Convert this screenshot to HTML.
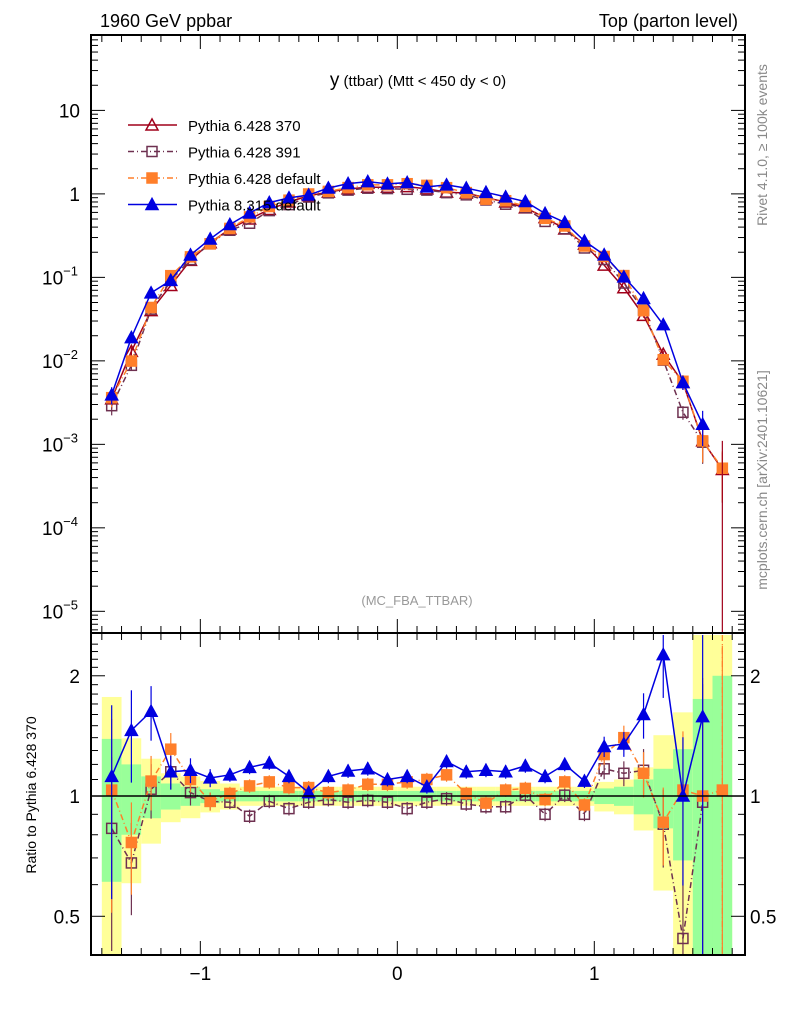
<!DOCTYPE html>
<html><head><meta charset="utf-8">
<style>
html,body{margin:0;padding:0;background:#fff;}
svg{display:block;font-family:"Liberation Sans",sans-serif;}
</style></head>
<body>
<svg id="chart" width="786" height="1024" viewBox="0 0 786 1024" xmlns="http://www.w3.org/2000/svg">
<g id="bands"></g>
<g id="grid"></g>
<g id="series"></g>
<g id="axes"></g>
<text x="100" y="27" font-size="18">1960 GeV ppbar</text>
<text x="738" y="27" font-size="18" text-anchor="end">Top (parton level)</text>
<text x="418" y="86" font-size="15" text-anchor="middle"><tspan font-size="19">y</tspan> (ttbar) (Mtt &lt; 450 dy &lt; 0)</text>
<text x="417" y="605" font-size="13" fill="#999" text-anchor="middle">(MC_FBA_TTBAR)</text>
<text x="767" y="145" font-size="14" fill="#888" text-anchor="middle" transform="rotate(-90 767 145)">Rivet 4.1.0, ≥ 100k events</text>
<text x="767" y="480" font-size="14" fill="#888" text-anchor="middle" transform="rotate(-90 767 480)">mcplots.cern.ch [arXiv:2401.10621]</text>
<text x="36" y="795" font-size="14" text-anchor="middle" transform="rotate(-90 36 795)">Ratio to Pythia 6.428 370</text>
<g id="legend"></g>
</svg>
<script>
const NS="http://www.w3.org/2000/svg";
// ---- data ----
const binCenters=[-1.45,-1.35,-1.25,-1.15,-1.05,-0.95,-0.85,-0.75,-0.65,-0.55,-0.45,-0.35,-0.25,-0.15,-0.05,0.05,0.15,0.25,0.35,0.45,0.55,0.65,0.75,0.85,0.95,1.05,1.15,1.25,1.35,1.45,1.55,1.65];
const ref370=[3.5e-3,1.3e-2,4e-2,0.08,0.16,0.26,0.38,0.5,0.65,0.8,0.95,1.05,1.15,1.2,1.2,1.22,1.15,1.05,1.02,0.9,0.8,0.68,0.52,0.38,0.25,0.14,0.075,0.035,0.012,5.5e-3,1.1e-3,5e-4];
const ratio391=[0.83,0.68,1.04,1.15,1.02,0.97,0.965,0.89,0.97,0.93,0.965,0.98,0.965,0.975,0.965,0.93,0.965,0.985,0.955,0.94,0.94,1.005,0.90,1.005,0.90,1.17,1.14,1.16,0.85,0.44,0.965,null];
const ratioDef=[1.035,0.765,1.09,1.31,1.10,0.97,1.015,1.06,1.085,1.05,1.05,1.02,1.035,1.07,1.07,1.085,1.10,1.13,1.015,0.96,1.035,1.045,0.98,1.085,0.95,1.27,1.40,1.14,0.86,1.035,1.0,1.035];
const ratioP8=[1.12,1.46,1.63,1.15,1.16,1.11,1.13,1.18,1.21,1.12,1.02,1.12,1.155,1.17,1.10,1.12,1.055,1.22,1.15,1.16,1.15,1.19,1.12,1.20,1.09,1.33,1.35,1.60,2.26,1.0,1.58,null];
const yellowUp=[1.77,1.395,1.24,1.14,1.12,1.09,1.075,1.055,1.055,1.055,1.055,1.055,1.055,1.055,1.055,1.055,1.055,1.055,1.055,1.055,1.055,1.055,1.055,1.055,1.055,1.085,1.10,1.18,1.42,1.62,2.6,2.6];
const greenUp=[1.39,1.20,1.12,1.075,1.055,1.04,1.03,1.03,1.03,1.03,1.03,1.03,1.03,1.03,1.03,1.03,1.03,1.03,1.03,1.03,1.03,1.03,1.03,1.03,1.03,1.045,1.055,1.10,1.17,1.31,1.75,2.0];
const mainTicks=["10","1","10","10","10","10","10"];
const mainExps=[null,null,"−1","−2","−3","−4","−5"];
const ratioTicks=[2,1,0.5];
const xTicks=[-1,0,1];
const xTickLabels=["−1","0","1"];
// ---- axes ----
const L=91,R=745,T=35,MB=633,RB=955;
const X0=-1.555,X1=1.765;
const sx=v=>L+(v-X0)/(X1-X0)*(R-L);
const LMAX=Math.log10(80),LMIN=Math.log10(5.5e-6);
const sy=v=>T+(LMAX-Math.log10(v))/(LMAX-LMIN)*(MB-T);
const RMAX=Math.log10(2.53),RMIN=Math.log10(0.40);
const ry=v=>635+(RMAX-Math.log10(v))/(RMAX-RMIN)*(RB-635);
function el(tag,attrs,parent){const e=document.createElementNS(NS,tag);for(const k in attrs)e.setAttribute(k,attrs[k]);parent.appendChild(e);return e;}
const bands=document.getElementById('bands'),series=document.getElementById('series'),axes=document.getElementById('axes'),legend=document.getElementById('legend');
binCenters.forEach((c,i)=>{
 const x0=sx(c-0.05),x1=sx(c+0.05);
 const clampTop=v=>Math.max(635,Math.min(RB,v));
 const yu=yellowUp[i],ylo=Math.max(2-yu,0.3);
 const r1=el('rect',{x:x0,y:clampTop(ry(yu)),width:x1-x0,height:clampTop(ry(ylo))-clampTop(ry(yu)),fill:'#ffff99'},bands);
 
 
 const gu=greenUp[i],glo=Math.max(2-gu,0.3);
 const r2=el('rect',{x:x0,y:clampTop(ry(gu)),width:x1-x0,height:clampTop(ry(glo))-clampTop(ry(gu)),fill:'#99ff99'},bands);
 
 
});
const ul=el('line',{x1:L,x2:R,y1:ry(1),y2:ry(1),stroke:'#000','stroke-width':1.5},axes);


const S=[
 {name:'pythia-6428-370',color:'#a0001a',dash:'',marker:'tri-open',ratio:binCenters.map(()=>1),label:'Pythia 6.428 370'},
 {name:'pythia-6428-391',color:'#6e3050',dash:'6,3,1,3',marker:'sq-open',ratio:ratio391,label:'Pythia 6.428 391'},
 {name:'pythia-6428-default',color:'#ff7f2a',dash:'6,3,1,3',marker:'sq-fill',ratio:ratioDef,label:'Pythia 6.428 default'},
 {name:'pythia-8315-default',color:'#0000e0',dash:'',marker:'tri-fill',ratio:ratioP8,label:'Pythia 8.315 default'}
];
function marker(g,type,x,y,c){
 let m;
 if(type.startsWith('tri')){m=el('polygon',{points:`${x},${y-6} ${x-6},${y+5} ${x+6},${y+5}`,fill:type.endsWith('fill')?c:'#fff','fill-opacity':type.endsWith('fill')?1:0,stroke:c,'stroke-width':1.5},g);}
 else{m=el('rect',{x:x-5,y:y-5,width:10,height:10,fill:type.endsWith('fill')?c:'none',stroke:c,'stroke-width':1.5},g);}
 return m;
}
S.forEach((s,si)=>{
 const g=el('g',{},series);
 
 
 const mp=[],rp=[];
 binCenters.forEach((c,i)=>{const r=s.ratio[i];if(r==null)return;const v=ref370[i]*r;mp.push([sx(c),sy(v),i,v]);rp.push([sx(c),ry(r),i,r]);});
 el('polyline',{points:mp.map(p=>p[0]+','+p[1]).join(' '),fill:'none',stroke:s.color,'stroke-width':1.5,'stroke-dasharray':s.dash},g);
 if(si>0) el('polyline',{points:rp.map(p=>p[0]+','+Math.min(RB,Math.max(635,p[1]))).join(' '),fill:'none',stroke:s.color,'stroke-width':1.5,'stroke-dasharray':s.dash},g);
 mp.forEach(p=>{
  const e=greenUp[p[2]]-1;
  if(e>0.1){const f=Math.min(0.9,e*0.6);const lo=p[3]*(1-f),hi=p[3]*(1+f);
   el('line',{x1:p[0],x2:p[0],y1:sy(hi),y2:sy(lo),stroke:s.color,'stroke-width':1.2},g);}
  const m=marker(g,s.marker,p[0],p[1],s.color);
  
  
 });
 if(si>0) rp.forEach(p=>{
  const e=greenUp[p[2]]-1;
  if(e>0.02){const lo=Math.max(0.4,p[3]*(1-e*1.3)),hi=Math.min(2.53,p[3]*(1+e*1.3));
   el('line',{x1:p[0],x2:p[0],y1:ry(hi),y2:ry(lo),stroke:s.color,'stroke-width':1.2},g);}
  if(p[1]>=635&&p[1]<=RB){const m=marker(g,s.marker,p[0],p[1],s.color);
   
   }
 });
 const ly=125+si*26.5;
 const le=el('g',{},legend);
 
 
 el('line',{x1:128,x2:177,y1:ly,y2:ly,stroke:s.color,'stroke-width':1.5,'stroke-dasharray':s.dash},le);
 marker(le,s.marker,152,ly,s.color);
 const t=el('text',{x:188,y:ly+6,'font-size':15},le);t.textContent=s.label;
});
el('line',{x1:sx(1.65),x2:sx(1.65),y1:sy(1.1e-3),y2:MB,stroke:'#a0001a','stroke-width':1.2},series);
el('line',{x1:sx(1.65),x2:sx(1.65),y1:635,y2:RB,stroke:'#ff7f2a','stroke-width':1.2,'stroke-dasharray':'6,3,1,3'},series);
const f1=el('rect',{x:L,y:T,width:R-L,height:MB-T,fill:'none',stroke:'#000','stroke-width':2},axes);


const f2=el('rect',{x:L,y:MB,width:R-L,height:RB-MB,fill:'none',stroke:'#000','stroke-width':2},axes);


for(let d=-6;d<=1;d++){for(let k=1;k<10;k++){const v=k*Math.pow(10,d);const y=sy(v);if(y<T||y>MB)continue;const len=k==1?14:7;
 el('line',{x1:L,x2:L+len,y1:y,y2:y,stroke:'#000'},axes);el('line',{x1:R-len,x2:R,y1:y,y2:y,stroke:'#000'},axes);}}
mainTicks.forEach((t,i)=>{const y=sy(Math.pow(10,1-i));
 const tx=el('text',{x:80,y:y+7,'font-size':19,'text-anchor':'end'},axes);
 
 
 tx.textContent=t;
 if(mainExps[i]){const sp=el('tspan',{dy:-9,'font-size':13},tx);sp.textContent=mainExps[i];tx.setAttribute('text-anchor','start');tx.setAttribute('x',42);}
});
for(let v=0.4;v<=2.5;v+=0.1){const y=ry(v);if(y<635||y>RB)continue;const major=Math.abs(v-1)<1e-6||Math.abs(v-2)<1e-6||Math.abs(v-0.5)<1e-6;const len=major?14:7;
 el('line',{x1:L,x2:L+len,y1:y,y2:y,stroke:'#000'},axes);el('line',{x1:R-len,x2:R,y1:y,y2:y,stroke:'#000'},axes);}
ratioTicks.forEach(v=>{const y=ry(v)+7;
 const a=el('text',{x:80,y:y,'font-size':19,'text-anchor':'end'},axes);a.textContent=String(v);
 
 
 const b=el('text',{x:750,y:y,'font-size':19},axes);b.textContent=String(v);
 
 });
for(let v=-1.5;v<=1.75;v+=0.1){const x=sx(v);const major=Math.abs(v-Math.round(v))<1e-6;const len=major?14:7;
 el('line',{x1:x,x2:x,y1:T,y2:T+len,stroke:'#000'},axes);el('line',{x1:x,x2:x,y1:MB-len,y2:MB,stroke:'#000'},axes);
 el('line',{x1:x,x2:x,y1:MB,y2:MB+len,stroke:'#000'},axes);el('line',{x1:x,x2:x,y1:RB-len,y2:RB,stroke:'#000'},axes);}
xTicks.forEach((v,i)=>{const t=el('text',{x:sx(v),y:980,'font-size':19,'text-anchor':'middle'},axes);t.textContent=xTickLabels[i];
 
 });
</script>
</body></html>
